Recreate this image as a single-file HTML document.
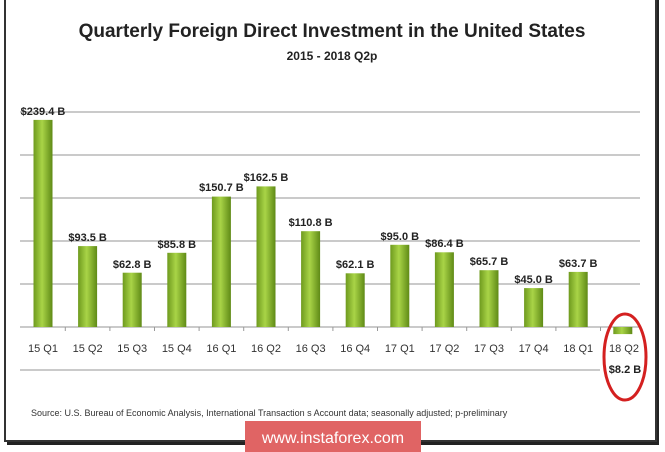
<!DOCTYPE html>
<html><head><meta charset="utf-8"><style>
html,body{margin:0;padding:0;background:#fff;}
svg{display:block;font-family:"Liberation Sans",sans-serif;}
</style></head><body>
<svg width="665" height="452" viewBox="0 0 665 452" xmlns="http://www.w3.org/2000/svg">
<defs>
<linearGradient id="g" x1="0" x2="1" y1="0" y2="0">
<stop offset="0" stop-color="#6e9a1e"/><stop offset="0.45" stop-color="#a9d447"/><stop offset="1" stop-color="#5f8a16"/>
</linearGradient>
</defs>
<rect x="0" y="0" width="665" height="452" fill="#fff"/>
<rect x="7" y="-2" width="652" height="447" fill="#222"/>
<rect x="5" y="-4" width="651" height="445" fill="#fff" stroke="#333" stroke-width="2"/>
<text x="332" y="37" text-anchor="middle" font-size="19" font-weight="bold" fill="#222">Quarterly Foreign Direct Investment in the United States</text>
<text x="332" y="60" text-anchor="middle" font-size="12" font-weight="bold" fill="#222">2015 - 2018 Q2p</text>
<g stroke="#aaa" stroke-width="1.3">
<line x1="20" x2="640" y1="112" y2="112"/><line x1="20" x2="640" y1="155" y2="155"/>
<line x1="20" x2="640" y1="198" y2="198"/><line x1="20" x2="640" y1="241" y2="241"/>
<line x1="20" x2="640" y1="284" y2="284"/><line x1="20" x2="640" y1="327" y2="327"/>
<line x1="20" x2="600" y1="370" y2="370"/>
</g>
<g stroke="#999">
<line x1="65.3" x2="65.3" y1="327" y2="331"/><line x1="109.9" x2="109.9" y1="327" y2="331"/>
<line x1="154.5" x2="154.5" y1="327" y2="331"/><line x1="199.1" x2="199.1" y1="327" y2="331"/>
<line x1="243.7" x2="243.7" y1="327" y2="331"/><line x1="288.3" x2="288.3" y1="327" y2="331"/>
<line x1="332.9" x2="332.9" y1="327" y2="331"/><line x1="377.5" x2="377.5" y1="327" y2="331"/>
<line x1="422.1" x2="422.1" y1="327" y2="331"/><line x1="466.7" x2="466.7" y1="327" y2="331"/>
<line x1="511.3" x2="511.3" y1="327" y2="331"/><line x1="555.9" x2="555.9" y1="327" y2="331"/>
<line x1="600.5" x2="600.5" y1="327" y2="331"/>
</g>
<g fill="url(#g)">
<rect x="33.5" y="119.9" width="19" height="207.1"/>
<rect x="78.1" y="246.1" width="19" height="80.9"/>
<rect x="122.7" y="272.7" width="19" height="54.3"/>
<rect x="167.3" y="252.8" width="19" height="74.2"/>
<rect x="211.9" y="196.6" width="19" height="130.4"/>
<rect x="256.5" y="186.4" width="19" height="140.6"/>
<rect x="301.1" y="231.2" width="19" height="95.8"/>
<rect x="345.7" y="273.3" width="19" height="53.7"/>
<rect x="390.3" y="244.8" width="19" height="82.2"/>
<rect x="434.9" y="252.3" width="19" height="74.7"/>
<rect x="479.5" y="270.2" width="19" height="56.8"/>
<rect x="524.1" y="288.1" width="19" height="38.9"/>
<rect x="568.7" y="271.9" width="19" height="55.1"/>
<rect x="613.3" y="327" width="19" height="7.1"/>
</g>
<g font-size="11" font-weight="bold" fill="#222" text-anchor="middle">
<text x="43" y="115">$239.4 B</text>
<text x="87.6" y="241">$93.5 B</text>
<text x="132.2" y="268">$62.8 B</text>
<text x="176.8" y="248">$85.8 B</text>
<text x="221.4" y="191">$150.7 B</text>
<text x="266" y="181">$162.5 B</text>
<text x="310.6" y="226">$110.8 B</text>
<text x="355.2" y="268">$62.1 B</text>
<text x="399.8" y="240">$95.0 B</text>
<text x="444.4" y="247">$86.4 B</text>
<text x="489" y="265">$65.7 B</text>
<text x="533.6" y="283">$45.0 B</text>
<text x="578.2" y="267">$63.7 B</text>
<text x="625" y="373">$8.2 B</text>
</g>
<g font-size="11" fill="#333" text-anchor="middle">
<text x="43" y="352">15 Q1</text><text x="87.6" y="352">15 Q2</text>
<text x="132.2" y="352">15 Q3</text><text x="176.8" y="352">15 Q4</text>
<text x="221.4" y="352">16 Q1</text><text x="266" y="352">16 Q2</text>
<text x="310.6" y="352">16 Q3</text><text x="355.2" y="352">16 Q4</text>
<text x="399.8" y="352">17 Q1</text><text x="444.4" y="352">17 Q2</text>
<text x="489" y="352">17 Q3</text><text x="533.6" y="352">17 Q4</text>
<text x="578.2" y="352">18 Q1</text><text x="624" y="352">18 Q2</text>
</g>
<text x="31" y="416" font-size="9" fill="#333">Source:  U.S. Bureau of Economic Analysis, International Transaction s Account data; seasonally adjusted; p-preliminary</text>
<ellipse cx="625" cy="357" rx="21" ry="43" fill="none" stroke="#d42020" stroke-width="3"/>
<rect x="245" y="421" width="176" height="31" fill="#e06464"/>
<text x="333" y="443" text-anchor="middle" font-size="16" fill="#fff">www.instaforex.com</text>
</svg>
</body></html>
